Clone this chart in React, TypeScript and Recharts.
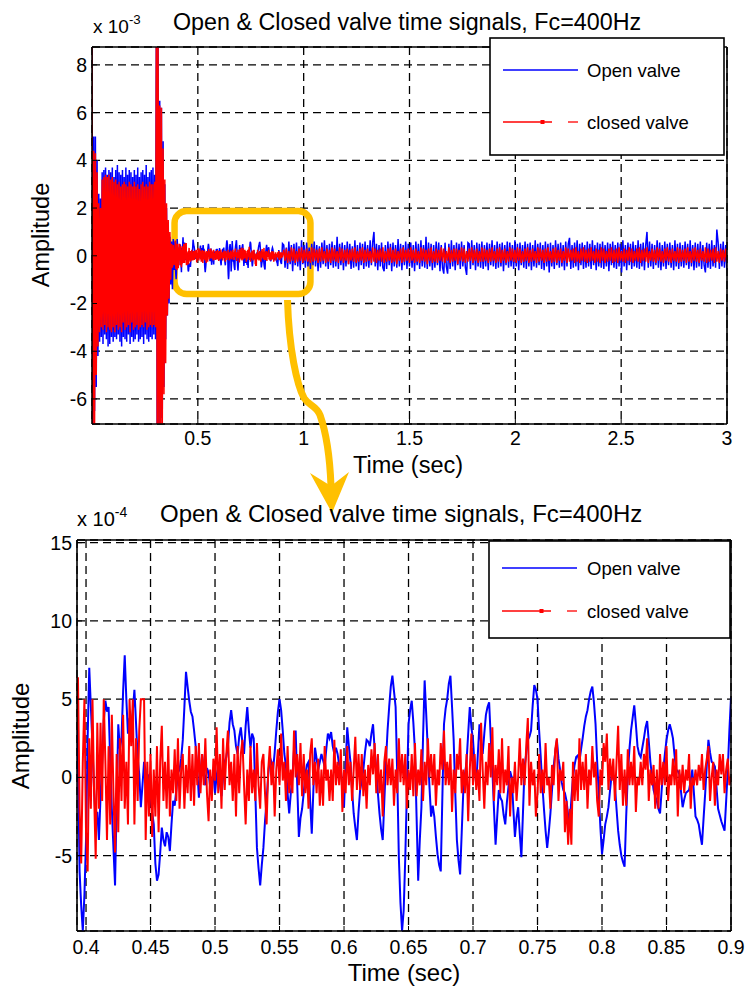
import React from 'react';
import { LineChart, Line, XAxis, YAxis, CartesianGrid, ReferenceLine, ReferenceArea } from 'recharts';

const FONT = '"Liberation Sans", Arial, Helvetica, sans-serif';
const BLUE = '#0000FF';
const RED = '#FF0000';
const ORANGE = '#FFC000';
const GRID = '#000';

const chartTitle = 'Open & Closed valve time signals, Fc=400Hz';
const seriesNames = ['Open valve', 'closed valve'];
const xLabel = 'Time (sec)';
const yLabel = 'Amplitude';

// Start-up burst, sampled every 4 ms from t = 0 (amplitude in 1e-3)
const burstStep = 0.004;
const burstOpen = [
  9.5, -7.5, 5.0, -6.5, 5.0, -5.5, 4.0, -4.2, 2.6, -3.6,
  2.4, -3.4, 3.5, -3.7, 3.6, -3.3, 3.7, -3.5, 3.4, -3.8,
  3.6, -3.7, 3.5, -3.4, 3.7, -3.6, 3.3, -3.4, 3.6, -3.5,
  3.8, -3.3, 3.5, -3.6, 3.4, -3.8, 3.6, -3.4, 3.3, -3.5,
  3.7, -3.6, 3.4, -3.3, 3.6, -3.7, 3.5, -3.4, 3.3, -3.6,
  3.6, -3.5, 3.4, -3.3, 3.7, -3.6, 3.3, -3.5, 3.5, -3.4,
  3.6, -3.7, 3.4, -3.3, 3.8, -3.5, 3.3, -3.6, 3.5, -3.4,
  3.6, -3.5, 3.7, -3.3, 3.4, -3.5, 9.5, -7.5, 9.5, -7.5,
  6.5, -7.5, 6.2, -6.8, 4.8, -5.5, 3.0, -3.5, 2.0, -2.5,
  1.2, -2.0, 0.8, -1.2, 0.6, -1.4, 0.7, -0.6,
];
const burstClosed = [
  9.5, -7.5, 4.4, -7.5, 4.3, -5.0, 3.5, -3.8, 2.2, -3.2,
  2.0, -3.0, 3.2, -3.1, 3.3, -2.9, 3.4, -3.2, 3.3, -3.0,
  3.4, -3.1, 3.2, -3.2, 3.3, -3.0, 3.1, -3.2, 3.2, -2.9,
  3.0, -3.1, 3.1, -3.0, 2.9, -3.2, 3.0, -2.8, 3.1, -3.1,
  3.0, -3.0, 2.9, -2.9, 3.1, -3.2, 3.0, -2.8, 2.9, -3.1,
  3.1, -3.0, 2.9, -2.9, 3.0, -3.1, 2.8, -3.0, 3.0, -2.9,
  3.1, -3.0, 2.9, -2.8, 3.0, -3.1, 2.9, -3.0, 3.1, -2.9,
  3.0, -3.0, 3.0, -2.9, 3.1, -3.0, 9.5, -7.5, 9.5, -7.5,
  6.3, -7.5, 6.2, -7.3, 4.5, -5.8, 3.2, -4.5, 2.2, -2.5,
  1.5, -1.8, 1.0, -1.0, 0.5, -0.5, 0.45, -0.4,
];

// Detail window 0.3925 .. 0.9 s, sampled every 1.25 ms (amplitude in 1e-4)
const detailStart = 0.3925;
const detailStep = 0.00125;
const detailOpen = [
  6.0, 1.5, -6.0, -8.2, -9.8, -7.5, -4.0, 2.5, 7.0, 4.5, 2.0, -0.8, -3.0, -2.2, -4.0, -1.2, 1.0, 3.6, 4.9, 4.2,
  4.5, 1.0, -2.0, -4.5, -6.9, -1.5, 3.4, 1.8, 2.5, 5.5, 7.8, 5.0, 2.8, 3.8, 3.0, 4.2, 5.6, 3.5, 1.3, 0.2,
  -1.9, -0.5, 1.0, 0.4, -0.5, 0.2, -1.0, -2.2, -3.0, -5.5, -6.6, -6.2, -4.8, -3.2, -4.0, -4.4, -3.5, -3.8, -4.7, -3.0,
  -1.5, -1.8, -0.8, 0.3, 0.5, 1.2, 2.4, 4.5, 6.75, 5.8, 4.9, 4.2, 3.9, 3.0, 2.0, 0.5, -1.3, 0.2, 1.5, 0.4,
  -0.5, 0.6, 0.3, -0.6, -0.2, 0.2, -1.0, 0.1, 0.8, -0.4, -1.2, 0.0, 1.0, 1.3, 2.0, 3.5, 4.3, 3.4, 3.0, 2.0,
  1.5, 2.6, 3.2, 2.2, 1.5, 3.3, 4.5, 3.0, 1.9, 2.8, 2.5, -1.0, -4.5, -5.8, -6.9, -5.6, -4.5, -2.8, -1.5, 0.2,
  1.3, 1.0, 0.5, 1.6, 3.0, 4.2, 5.0, 4.3, 3.0, 1.5, 0.7, -1.0, -2.3, -1.0, 0.0, 1.8, 3.0, -0.5, -3.8, -2.6,
  -2.0, -1.0, 0.2, 0.8, 1.0, -1.5, -3.6, -0.8, 1.9, 1.2, 0.5, 1.0, 1.5, 1.1, 0.7, 1.8, 2.8, 2.5, 2.9, 2.0,
  1.5, 1.9, 1.5, 0.8, 0.5, -0.6, -1.9, 0.8, 3.2, 2.0, 1.0, -0.8, -2.3, -3.2, -4.0, -2.2, -0.8, -0.2, 0.5, 1.6,
  2.4, 2.3, 2.0, 2.8, 3.4, 1.8, 0.5, -1.0, -2.3, -3.3, -4.0, -1.5, 1.0, 3.0, 4.5, 5.8, 6.5, 5.5, 4.5, 0.2,
  -5.1, -8.0, -9.8, -8.5, -5.1, -0.8, 3.4, 4.3, 4.9, 3.5, 1.7, -2.5, -6.6, -4.0, -1.9, 2.5, 6.2, 4.0, 1.7, -0.6,
  -2.5, -1.8, -2.5, -3.8, -4.9, -5.6, -6.0, -1.2, 3.4, 4.4, 5.0, 6.0, 6.5, 4.5, 2.4, -1.0, -4.0, -5.3, -6.2, -3.5,
  -0.8, 0.2, 1.0, 2.8, 4.5, 3.2, 2.4, 0.8, -0.5, 1.5, 3.4, 2.2, 1.5, 2.8, 4.0, 4.5, 4.8, 2.5, 0.5, -2.0,
  -4.3, -2.5, -0.8, -1.3, -1.5, -2.4, -3.0, -1.6, -0.6, 0.4, 0.0, -2.0, -3.8, -2.6, -1.9, -3.6, -5.1, -2.2, 0.7, 1.5,
  2.4, 2.6, 3.0, 4.6, 5.9, 5.6, 5.0, 3.0, 1.3, -0.5, -2.0, -3.4, -4.5, -3.5, -2.3, -0.8, 0.7, 1.6, 2.4, 1.2,
  0.5, -0.3, -0.8, -1.0, -1.5, -2.4, -3.0, -1.4, 0.0, 0.8, 1.3, 1.4, 1.0, 1.8, 2.5, 3.3, 3.9, 4.3, 5.0, 5.5,
  5.8, 4.8, 3.4, 1.0, -1.0, -3.2, -4.9, -4.0, -3.0, -2.5, -1.9, -0.8, 0.2, 0.0, -0.5, -2.0, -3.4, -4.3, -5.0, -5.4,
  -5.7, -2.5, 0.2, 1.8, 3.0, 3.8, 4.6, 3.4, 2.0, 1.5, 1.3, 1.9, 2.5, 3.2, 3.6, 2.3, 1.0, 0.1, -0.8, -1.2,
  -1.5, -2.0, -2.3, -0.8, 0.5, 1.5, 2.4, 3.0, 3.4, 3.0, 2.5, 1.4, 0.5, 0.4, 0.2, -0.9, -1.9, -1.4, -1.0, -0.9,
  -0.8, -0.2, 0.5, -1.0, -2.5, -2.7, -3.0, -3.7, -4.3, -2.6, -1.0, 0.8, 2.4, 1.6, 1.0, 0.9, 0.7, -0.6, -2.0, -2.4,
  -2.8, -3.1, -3.4, -1.5, 0.5, 3.0, 5.1,
];
const detailClosed = [
  3.0, 6.4, -2.0, -5.5, 1.0, 5.0, -3.5, -6.0, 2.5, -2.0, 5.0, -1.0, -5.2, 3.5, -2.0, 3.5, -1.5, 5.0, 1.0, -4.0,
  2.0, -3.0, 4.0, -1.0, -4.8, 1.5, -3.5, 2.5, -1.5, 4.0, -2.0, 1.0, -3.0, 5.0, 2.0, 5.0, -3.0, 2.5, -1.5, 3.0,
  5.0, 5.0, 5.0, -4.0, 1.0, -2.5, 1.5, -3.8, 0.5, -2.5, 2.0, -3.5, 1.0, 3.3, -1.5, 1.0, -2.0, 2.0, -2.5, 0.5,
  -1.0, 1.8, -1.5, 2.5, -2.0, 0.5, 1.5, -2.0, 0.8, -1.0, 2.0, -1.5, 1.5, -1.8, 2.0, -0.5, 2.2, -1.0, 1.5, -0.5,
  2.5, -1.0, -2.8, 0.5, -1.5, 1.2, -0.2, 3.2, -1.0, 1.5, -2.0, 2.5, -0.8, 1.5, 3.0, -0.5, 1.0, -1.5, 1.5, -2.5,
  2.0, -1.0, 1.5, 2.4, -0.5, -3.0, 0.5, -1.5, 2.0, -1.0, 0.5, -1.5, 2.2, -0.5, -2.0, 1.0, 1.5, -1.0, -3.0, 0.5,
  2.0, -0.5, 1.0, -2.5, 0.5, 1.8, -0.5, 2.8, -0.2, 1.0, -1.5, 2.0, -1.0, 0.5, -1.0, 3.0, 0.0, 1.5, -0.5, 2.2,
  -1.2, 1.5, -1.0, 0.5, -2.0, 1.5, 2.5, -0.5, 1.0, -1.0, 1.2, -1.8, 0.5, -1.8, 2.0, -0.2, 0.5, -1.5, 0.5, -1.5,
  2.4, -0.5, 1.0, -0.5, 1.8, -2.2, 0.5, -1.0, 2.0, -0.5, 1.0, -1.5, 0.5, 2.6, -0.8, 1.5, -0.8, 1.5, -1.2, 0.5,
  -2.0, 0.8, -0.5, 1.8, 0.2, 2.2, -1.0, 1.5, -1.0, 0.5, -2.5, 1.0, 2.0, -0.5, 1.2, -0.5, 1.2, -1.8, 0.5, -1.0,
  2.5, -0.3, 1.5, -0.5, 1.5, -2.0, 0.5, -0.8, 1.5, -1.2, 2.2, -1.2, 0.5, -0.5, 1.8, -1.5, 1.0, -0.5, 2.5, 0.0,
  1.5, -0.5, 1.5, -1.8, 0.5, -0.5, 2.2, 0.5, 3.0, -0.5, 1.0, -0.5, 1.5, -2.2, 0.5, -1.0, 1.5, 0.5, 2.5, -1.0,
  0.5, -1.0, 1.5, -2.8, 0.5, 2.8, -0.5, 1.5, -0.8, 0.5, -1.5, 3.5, 0.5, -2.0, 1.0, -0.5, 2.2, 0.0, 3.2, -1.5,
  0.8, -0.5, 1.8, -1.0, 2.5, -1.0, 0.5, -0.5, 2.0, -2.5, 0.0, -1.0, 1.0, -1.5, 0.0, 2.5, -0.5, 1.2, -0.5, 2.0,
  3.8, -1.8, 1.0, -0.5, 0.5, -2.5, -1.0, 1.5, -1.0, 0.5, -1.0, 2.2, -0.5, 0.0, -2.0, 0.8, -0.5, 1.8, 2.5, -1.5,
  0.5, -0.2, 1.0, -3.5, -1.5, -4.3, -2.0, -4.3, 1.0, -1.5, 0.5, -1.5, 2.5, -0.8, 1.0, -0.8, 1.5, -2.0, 0.5, -0.5,
  2.0, 0.0, 1.0, -1.5, -2.5, 0.5, -0.5, 2.2, 1.0, 2.8, -0.8, 1.2, -0.2, 1.2, -1.5, 1.0, 3.3, -0.8, 1.5, -1.8,
  0.5, -1.8, 1.8, -0.5, 1.0, -0.5, 2.0, -2.2, 0.0, -0.5, 1.0, -0.5, 1.5, 0.5, 2.5, -1.5, 0.5, -0.5, 0.8, -2.0,
  0.5, -2.0, 1.5, -0.5, 1.0, -0.5, 2.0, -1.5, 0.2, -0.5, 1.2, -0.5, 1.8, -2.5, 0.5, -0.8, 0.8, -1.0, 0.5, -0.2,
  1.5, -2.0, 0.0, -0.5, 0.5, -0.5, 0.8, -0.2, 1.5, -0.8, 0.5, 1.2, 2.0, -1.5, 0.0, 1.0, -1.8, 0.5, -0.5, 1.5,
  0.2, 1.5, -1.0, 0.5, 1.2, -0.5, 0.0,
];

// Steady part 0.906 .. 3 s, sampled every 6 ms (amplitude in 1e-3)
const tailStart = 0.906;
const tailStep = 0.006;
const tailOpen = [
  0.45, -0.5, 0.35, -0.55, 0.6, -0.35, 0.45, -0.65, 0.5, -0.4, 0.55, -0.45, 0.4, -0.6, 0.65, -0.35, 0.45, -0.5, 0.55, -0.45,
  0.35, -0.55, 0.5, -0.4, 0.6, -0.45, 0.45, -0.65, 0.4, -0.5, 0.55, -0.35, 0.65, -0.45, 0.45, -0.55, 0.5, -0.4, 0.6, -0.5,
  0.45, -0.45, 0.8, -0.55, 0.5, -0.4, 0.55, -0.6, 0.45, -0.45, 0.6, -0.35, 0.5, -0.55, 0.4, -0.5, 0.65, -0.45, 0.45, -0.6,
  0.55, -0.4, 0.5, -0.55, 0.6, -0.45, 0.45, -0.5, 0.65, -0.4, 0.55, 1.0, -0.45, 0.5, -0.6, 0.45, -0.45, 0.55, -0.5, -0.65,
  0.45, -0.55, 0.6, -0.4, 0.5, -0.65, 0.55, -0.45, 0.45, -0.5, 0.7, -0.45, 0.5, -0.6, 0.45, -0.4, 0.6, -0.55, 0.5, -0.45,
  0.55, -0.5, 0.45, -0.65, 0.6, -0.4, 0.5, -0.55, 0.65, -0.45, 0.45, -0.5, 0.8, -0.55, 0.55, -0.45, 0.5, -0.6, 0.45, -0.5,
  0.6, -0.4, 0.55, -0.65, 0.45, -0.5, -0.75, 0.55, -0.45, -0.75, 0.5, -0.55, 0.65, -0.45, 0.45, -0.6, 0.55, -0.4, 0.5, -0.55,
  0.6, -0.45, 0.45, -0.5, -0.8, 0.55, 0.5, -0.55, 0.65, -0.4, 0.45, -0.6, 0.55, -0.45, 0.5, -0.5, 0.6, -0.55, 0.45, -0.45,
  0.55, -0.6, 0.5, -0.4, 0.65, -0.45, 0.45, -0.55, 0.6, -0.5, 0.5, -0.45, 0.55, -0.65, 0.45, -0.4, 0.6, -0.5, 0.55, -0.45,
  0.45, -0.55, 0.65, -0.45, 0.5, -0.6, 0.55, -0.4, 0.45, -0.5, 0.6, -0.55, 0.5, -0.45, 0.55, -0.6, 0.45, -0.45, 0.65, -0.5,
  0.5, -0.4, 0.55, -0.55, 0.45, -0.6, 0.6, -0.45, 0.5, -0.7, 0.55, -0.45, 0.45, -0.55, 0.65, -0.4, 0.5, -0.5, 0.55, -0.45,
  0.45, -0.6, 0.6, -0.45, 0.5, 0.75, -0.55, 0.45, -0.5, 0.55, -0.45, 0.65, -0.6, 0.5, -0.4, 0.55, -0.55, 0.45, -0.5, 0.6,
  -0.45, 0.5, -0.55, 0.65, -0.4, 0.45, -0.6, 0.55, -0.45, 0.5, -0.5, 0.6, -0.55, 0.45, -0.45, 0.55, -0.65, 0.5, -0.4, 0.6,
  -0.5, 0.45, -0.55, 0.55, -0.45, 0.5, -0.7, 0.65, -0.45, 0.45, -0.6, 0.55, -0.4, 0.5, -0.55, 0.6, -0.45, 0.45, -0.5, 0.65,
  -0.55, 0.5, -0.45, 0.55, -0.6, 0.45, 1.0, -0.5, 0.6, -0.45, 0.5, -0.55, 0.45, -0.4, 0.65, -0.5, 0.55, -0.6, 0.45, -0.45,
  0.6, -0.55, 0.5, -0.4, 0.55, -0.5, 0.45, -0.6, 0.65, -0.45, 0.5, -0.55, 0.55, -0.45, 0.45, -0.5, 0.6, -0.4, 0.5, -0.55,
  0.65, -0.45, 0.45, -0.6, 0.55, -0.5, 0.5, -0.45, 0.6, -0.55, 0.45, -0.4, -0.7, 0.55, -0.5, 0.5, -0.55, 0.65, -0.45, 0.45,
  -0.5, 1.1, 0.55, -0.55, 0.5, -0.45, 0.6, -0.5, 0.45, -0.6,
];
const tailClosed = [
  0.25, -0.2, 0.3, -0.3, 0.2, -0.25, 0.35, -0.2, 0.3, -0.3, 0.2, -0.25, 0.3, -0.2, 0.35, -0.3, 0.25, -0.2, 0.3, -0.25,
  0.2, -0.3, 0.35, -0.25, 0.3, -0.2, 0.25, -0.3, 0.3, -0.25, 0.35, -0.2, 0.2, -0.3, 0.3, -0.25, 0.25, -0.3, 0.35, -0.2,
  0.3, -0.25, 0.2, -0.3, 0.35, -0.2, 0.3, -0.3, 0.25, -0.2, 0.3, -0.35, 0.25, -0.2, 0.3, -0.25, 0.35, -0.3, 0.2, -0.25,
  0.3, -0.2, 0.35, -0.3, 0.25, -0.25, 0.3, -0.2, 0.2, -0.3, 0.35, -0.25, 0.3, -0.3, 0.25, -0.2, 0.3, -0.25, 0.35, -0.3,
  0.2, -0.25, 0.3, -0.2, 0.35, -0.3, 0.25, -0.25, 0.3, -0.35, 0.2, -0.2, 0.3, -0.3, 0.35, -0.25, 0.25, -0.2, 0.3, -0.3,
  0.35, -0.2, 0.25, -0.3, 0.3, -0.25, 0.2, -0.3, 0.35, -0.2, 0.3, -0.25, 0.25, -0.35, 0.3, -0.2, 0.35, -0.3, 0.2, -0.25,
  0.3, -0.3, 0.25, -0.2, 0.35, -0.25, 0.3, -0.3, 0.2, -0.2, 0.35, -0.3, 0.25, -0.25, 0.3, -0.2, 0.3, -0.35, 0.25, -0.2,
  0.35, -0.25, 0.3, -0.3, 0.2, -0.25, 0.3, -0.2, 0.35, -0.3, 0.25, -0.2, 0.3, -0.3, 0.2, -0.25, 0.35, -0.25, 0.3, -0.2,
  0.25, -0.3, 0.3, -0.25, 0.35, -0.2, 0.2, -0.3, 0.3, -0.25, 0.35, -0.3, 0.25, -0.2, 0.3, -0.3, 0.2, -0.25, 0.35, -0.2,
  0.3, -0.25, 0.25, -0.3, 0.35, -0.2, 0.3, -0.3, 0.2, -0.25, 0.3, -0.2, 0.35, -0.3, 0.25, -0.25, 0.3, -0.2, 0.2, -0.3,
  0.35, -0.25, 0.3, -0.2, 0.25, -0.3, 0.3, -0.25, 0.35, -0.2, 0.2, -0.3, 0.3, -0.25, 0.35, -0.3, 0.25, -0.2, 0.3, -0.3,
  0.2, -0.2, 0.35, -0.3, 0.3, -0.25, 0.25, -0.2, 0.3, -0.3, 0.35, -0.25, 0.2, -0.3, 0.3, -0.2, 0.35, -0.25, 0.25, -0.3,
  0.3, -0.25, 0.35, -0.2, 0.2, -0.3, 0.3, -0.25, 0.25, -0.3, 0.35, -0.2, 0.3, -0.3, 0.2, -0.25, 0.3, -0.2, 0.35, -0.3,
  0.25, -0.25, 0.3, -0.3, 0.35, -0.2, 0.2, -0.25, 0.3, -0.3, 0.25, -0.2, 0.35, -0.25, 0.3, -0.3, 0.2, -0.2, 0.3, -0.25,
  0.35, -0.3, 0.25, -0.2, 0.3, -0.25, 0.35, -0.3, 0.2, -0.2, 0.3, -0.25, 0.25, -0.3, 0.35, -0.2, 0.3, -0.25, 0.2, -0.3,
  0.3, -0.2, 0.35, -0.25, 0.25, -0.3, 0.3, -0.2, 0.2, -0.25, 0.35, -0.3, 0.3, -0.25, 0.25, -0.2, 0.3, -0.3, 0.35, -0.25,
  0.2, -0.3, 0.3, -0.2, 0.35, -0.25, 0.25, -0.3, 0.3, -0.2, 0.2, -0.25, 0.35, -0.3, 0.3, -0.25, 0.25, -0.2, 0.3, -0.3,
  0.35, -0.25, 0.2, -0.3, 0.3, -0.2, 0.25, -0.25, 0.3, -0.2,
];

const overviewTicksX = [0.5, 1, 1.5, 2, 2.5, 3];
const overviewTicksY = [-6, -4, -2, 0, 2, 4, 6, 8];
const overviewDomainX = [0, 3];
const overviewDomainY = [-7.05, 8.75];
const detailTicksX = [0.4, 0.45, 0.5, 0.55, 0.6, 0.65, 0.7, 0.75, 0.8, 0.85, 0.9];
const detailTicksY = [-5, 0, 5, 10, 15];
const detailDomainX = [0.393, 0.9];
const detailDomainY = [-9.81, 15.17];
// highlighted window on the overview (seconds, 1e-3)
const highlightT = [0.39, 1.032];
const highlightA = [-1.6, 1.875];

type Row = { t: number; open: number; closed: number };

const overviewRows: Row[] = [
  ...burstOpen.map((v, i) => ({ t: i * burstStep, open: v, closed: burstClosed[i] })),
  ...detailOpen.map((v, i) => ({ t: detailStart + i * detailStep, open: v / 10, closed: detailClosed[i] / 10 })),
  ...tailOpen.map((v, i) => ({ t: tailStart + i * tailStep, open: v, closed: tailClosed[i] })),
];

const detailRows: Row[] = detailOpen.map((v, i) => ({
  t: detailStart + i * detailStep,
  open: v,
  closed: detailClosed[i],
}));

const tickStyle = { fill: '#000', fontSize: 19.5, fontFamily: FONT };

function LegendBox({ x, y, w, h, rowsY }: { x: number; y: number; w: number; h: number; rowsY: number[] }) {
  const lx = x + 13;
  const tx = 587;
  return (
    <g>
      <rect x={x} y={y} width={w} height={h} fill="#fff" stroke="#000" strokeWidth={1.6} />
      <line x1={lx} x2={lx + 75} y1={rowsY[0]} y2={rowsY[0]} stroke={BLUE} strokeWidth={1.3} />
      <text x={tx} y={rowsY[0] + 6.5} fontSize={18.5} fontFamily={FONT} fill="#000">{seriesNames[0]}</text>
      <line x1={lx} x2={lx + 49} y1={rowsY[1]} y2={rowsY[1]} stroke={RED} strokeWidth={1.3} />
      <rect x={lx + 37.5} y={rowsY[1] - 2} width={4} height={4} fill={RED} />
      <line x1={lx + 65} x2={lx + 75} y1={rowsY[1]} y2={rowsY[1]} stroke={RED} strokeWidth={1.3} />
      <text x={tx} y={rowsY[1] + 6.5} fontSize={18.5} fontFamily={FONT} fill="#000">{seriesNames[1]}</text>
    </g>
  );
}

function Exponent({ x, y, exp, size }: { x: number; y: number; exp: string; size: number }) {
  return (
    <text x={x} y={y} fontSize={size} fontFamily={FONT} fill="#000">
      x 10
      <tspan dy={-9} fontSize={size * 0.7}>{exp}</tspan>
    </text>
  );
}

export default function App() {
  return (
    <div style={{ position: 'absolute', left: 0, top: 0, width: 747, height: 999, background: '#fff', fontFamily: FONT }}>
      <div style={{ position: 'absolute', left: 0, top: 0 }}>
        <LineChart width={747} height={480} data={overviewRows} margin={{ top: 47, right: 20, bottom: 16, left: 0 }}>
          <CartesianGrid stroke={GRID} strokeDasharray="8 5" strokeWidth={1.3} />
          <XAxis
            dataKey="t"
            type="number"
            domain={overviewDomainX}
            ticks={overviewTicksX}
            interval={0}
            allowDataOverflow
            height={40}
            tick={tickStyle}
            tickSize={-5}
            tickMargin={12}
            tickLine={{ stroke: '#000' }}
            axisLine={{ stroke: '#000', strokeWidth: 1.6 }}
          />
          <YAxis
            type="number"
            domain={overviewDomainY}
            ticks={overviewTicksY}
            interval={0}
            allowDataOverflow
            width={92}
            tick={tickStyle}
            tickSize={-5}
            tickMargin={10}
            tickLine={{ stroke: '#000' }}
            axisLine={{ stroke: '#000', strokeWidth: 1.6 }}
          />
          <Line type="linear" dataKey="open" stroke={BLUE} strokeWidth={1.5} dot={false} isAnimationActive={false} />
          <Line type="linear" dataKey="closed" stroke={RED} strokeWidth={1.5} dot={false} isAnimationActive={false} />
          <ReferenceLine y={overviewDomainY[1]} stroke="#000" strokeWidth={1.6} />
          <ReferenceLine x={overviewDomainX[1]} stroke="#000" strokeWidth={1.6} />
          <ReferenceArea
            x1={highlightT[0]}
            x2={highlightT[1]}
            y1={highlightA[0]}
            y2={highlightA[1]}
            fill="none"
            fillOpacity={0}
            stroke={ORANGE}
            strokeWidth={6.5}
            radius={12}
          />
        </LineChart>
      </div>

      <div style={{ position: 'absolute', left: 0, top: 490 }}>
        <LineChart width={747} height={509} data={detailRows} margin={{ top: 50, right: 16, bottom: 28, left: 0 }}>
          <CartesianGrid stroke={GRID} strokeDasharray="8 5" strokeWidth={1.3} />
          <XAxis
            dataKey="t"
            type="number"
            domain={detailDomainX}
            ticks={detailTicksX}
            interval={0}
            allowDataOverflow
            height={40}
            tick={tickStyle}
            tickSize={-5}
            tickMargin={14}
            tickLine={{ stroke: '#000' }}
            axisLine={{ stroke: '#000', strokeWidth: 1.6 }}
          />
          <YAxis
            type="number"
            domain={detailDomainY}
            ticks={detailTicksY}
            interval={0}
            allowDataOverflow
            width={77}
            tick={tickStyle}
            tickSize={-5}
            tickMargin={10}
            tickLine={{ stroke: '#000' }}
            axisLine={{ stroke: '#000', strokeWidth: 1.6 }}
          />
          <Line type="linear" dataKey="open" stroke={BLUE} strokeWidth={2} dot={false} isAnimationActive={false} />
          <Line type="linear" dataKey="closed" stroke={RED} strokeWidth={2} dot={false} isAnimationActive={false} />
          <ReferenceLine y={detailDomainY[1]} stroke="#000" strokeWidth={1.6} />
          <ReferenceLine x={detailDomainX[1]} stroke="#000" strokeWidth={1.6} />
        </LineChart>
      </div>

      <svg width={747} height={999} style={{ position: 'absolute', left: 0, top: 0, pointerEvents: 'none' }}>
        {/* callout arrow from the highlighted window down to the detail plot */}
        <path
          d="M 287.5 300 C 289 350, 297 385, 304 398 C 309 406, 316 405, 320 415 C 326 432, 330 460, 331 486"
          fill="none"
          stroke={ORANGE}
          strokeWidth={7}
        />
        <path d="M 310 473 L 332 513 L 349 472 L 331 486 Z" fill={ORANGE} />

        <LegendBox x={490} y={38} w={234} h={117} rowsY={[70, 122]} />
        <LegendBox x={489} y={541} w={241} h={97} rowsY={[568, 611]} />

        <text x={173} y={30} fontSize={23.3} fontFamily={FONT} fill="#000">{chartTitle}</text>
        <text x={160} y={522} fontSize={24} fontFamily={FONT} fill="#000">{chartTitle}</text>
        <Exponent x={93} y={33} exp="-3" size={19} />
        <Exponent x={77} y={526} exp="-4" size={20} />

        <text x={408} y={473} fontSize={23.5} fontFamily={FONT} textAnchor="middle" fill="#000">{xLabel}</text>
        <text x={404} y={981} fontSize={24} fontFamily={FONT} textAnchor="middle" fill="#000">{xLabel}</text>
        <text x={49} y={235} fontSize={23.5} fontFamily={FONT} textAnchor="middle" fill="#000" transform="rotate(-90 49 235)">{yLabel}</text>
        <text x={29} y={736} fontSize={24} fontFamily={FONT} textAnchor="middle" fill="#000" transform="rotate(-90 29 736)">{yLabel}</text>
      </svg>
    </div>
  );
}
